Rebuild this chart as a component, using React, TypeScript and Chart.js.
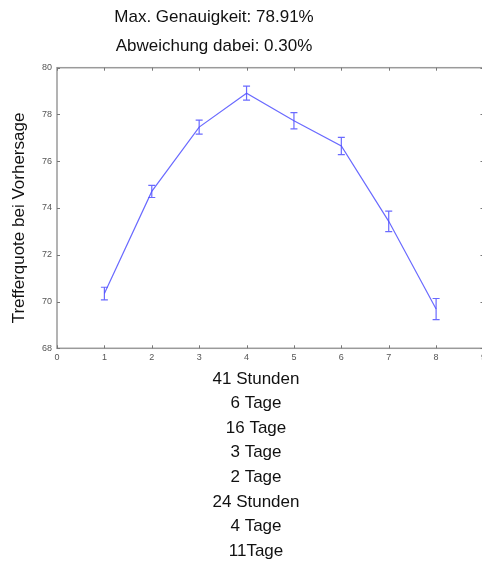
import React, { useEffect, useRef } from "react";
import { Chart, registerables } from "chart.js";

Chart.register(...registerables);

// Forecast horizon index on the x axis
const horizons = [1, 2, 3, 4, 5, 6, 7, 8];
// Mean hit rate (%) per horizon and its deviation
const hitRate = [70.34, 74.71, 77.46, 78.91, 77.73, 76.65, 73.43, 69.68];
const deviation = [0.27, 0.26, 0.3, 0.3, 0.35, 0.37, 0.44, 0.45];
// Length of each forecast window
const windowLabels = [
  "41 Stunden",
  "6 Tage",
  "16 Tage",
  "3 Tage",
  "2 Tage",
  "24 Stunden",
  "4 Tage",
  "11Tage",
];
const headerLines = ["Max. Genauigkeit: 78.91%", "Abweichung dabei: 0.30%"];
const yAxisTitle = "Trefferquote bei Vorhersage";
const xTicks = [0, 1, 2, 3, 4, 5, 6, 7, 8, 9];
const yTicks = [68, 70, 72, 74, 76, 78, 80];

const W = 490;
const H = 565;
const TEXT_FONT = '17px "Liberation Sans", Arial, sans-serif';

const decorPlugin = {
  id: "decor",
  beforeDatasetsDraw(chart: any) {
    const { ctx, chartArea } = chart;
    const { left, right, top, bottom } = chartArea;
    const xs = chart.scales.x;
    const ys = chart.scales.y;
    ctx.save();
    // axes box
    ctx.strokeStyle = "#9a9a9a";
    ctx.lineWidth = 1.5;
    ctx.strokeRect(left, top, right - left, bottom - top);
    // inward tick marks on all four sides
    ctx.strokeStyle = "#777";
    ctx.lineWidth = 1;
    ctx.beginPath();
    xTicks.forEach((v) => {
      const px = Math.round(xs.getPixelForValue(v)) + 0.5;
      ctx.moveTo(px, bottom);
      ctx.lineTo(px, bottom - 3);
      ctx.moveTo(px, top);
      ctx.lineTo(px, top + 3);
    });
    yTicks.forEach((v) => {
      const py = Math.round(ys.getPixelForValue(v)) + 0.5;
      ctx.moveTo(left, py);
      ctx.lineTo(left + 3, py);
      ctx.moveTo(right, py);
      ctx.lineTo(right - 3, py);
    });
    ctx.stroke();
    ctx.restore();
  },
  afterDatasetsDraw(chart: any) {
    const { ctx } = chart;
    const xs = chart.scales.x;
    const ys = chart.scales.y;
    ctx.save();
    // error bars
    ctx.strokeStyle = "rgba(80,80,255,0.85)";
    ctx.lineWidth = 1.2;
    horizons.forEach((h, i) => {
      const px = xs.getPixelForValue(h);
      const yTop = ys.getPixelForValue(hitRate[i] + deviation[i]);
      const yBot = ys.getPixelForValue(hitRate[i] - deviation[i]);
      ctx.beginPath();
      ctx.moveTo(px, yTop);
      ctx.lineTo(px, yBot);
      ctx.moveTo(px - 3.5, yTop);
      ctx.lineTo(px + 3.5, yTop);
      ctx.moveTo(px - 3.5, yBot);
      ctx.lineTo(px + 3.5, yBot);
      ctx.stroke();
    });

    // texts
    ctx.fillStyle = "#111";
    ctx.font = TEXT_FONT;
    ctx.textAlign = "center";
    ctx.textBaseline = "middle";
    headerLines.forEach((t, i) => ctx.fillText(t, 214, 17.5 + i * 29));
    windowLabels.forEach((t, i) => ctx.fillText(t, 256, 379 + i * 24.6));

    ctx.translate(19.5, 218);
    ctx.rotate(-Math.PI / 2);
    ctx.fillText(yAxisTitle, 0, 0);
    ctx.restore();
  },
};

export default function App() {
  const ref = useRef<HTMLCanvasElement | null>(null);

  useEffect(() => {
    if (!ref.current) return;
    const chart = new Chart(ref.current, {
      type: "line",
      data: {
        datasets: [
          {
            data: horizons.map((h, i) => ({ x: h, y: hitRate[i] })),
            borderColor: "rgba(80,80,255,0.85)",
            borderWidth: 1.2,
            pointRadius: 0,
            tension: 0,
            fill: false,
          },
        ],
      },
      options: {
        responsive: false,
        animation: false,
        layout: { padding: { top: 67.7, right: 6.3, bottom: 0, left: 0 } },
        plugins: {
          legend: { display: false },
          tooltip: { enabled: false },
          title: { display: false },
        },
        scales: {
          x: {
            type: "linear",
            min: 0,
            max: 9,
            afterBuildTicks: (s: any) => {
              s.ticks = xTicks.map((v) => ({ value: v }));
            },
            afterFit: (s: any) => {
              s.height = H - 348.3;
            },
            grid: { display: false, drawTicks: false },
            border: { display: false },
            ticks: {
              padding: 4,
              color: "#555",
              font: { family: '"Liberation Sans", Arial, sans-serif', size: 9 },
              maxRotation: 0,
              autoSkip: false,
            },
          },
          y: {
            type: "linear",
            min: 68,
            max: 80,
            afterBuildTicks: (s: any) => {
              s.ticks = yTicks.map((v) => ({ value: v }));
            },
            afterFit: (s: any) => {
              s.width = 57;
            },
            grid: { display: false, drawTicks: false },
            border: { display: false },
            ticks: {
              padding: 5,
              color: "#555",
              font: { family: '"Liberation Sans", Arial, sans-serif', size: 9 },
              autoSkip: false,
            },
          },
        },
      },
      plugins: [decorPlugin],
    });
    return () => chart.destroy();
  }, []);

  return (
    <div
      style={{
        position: "fixed",
        left: 0,
        top: 0,
        width: 482,
        height: H,
        overflow: "hidden",
        background: "#fff",
      }}
    >
      <canvas ref={ref} width={W} height={H} style={{ display: "block", width: W, height: H }} />
    </div>
  );
}
